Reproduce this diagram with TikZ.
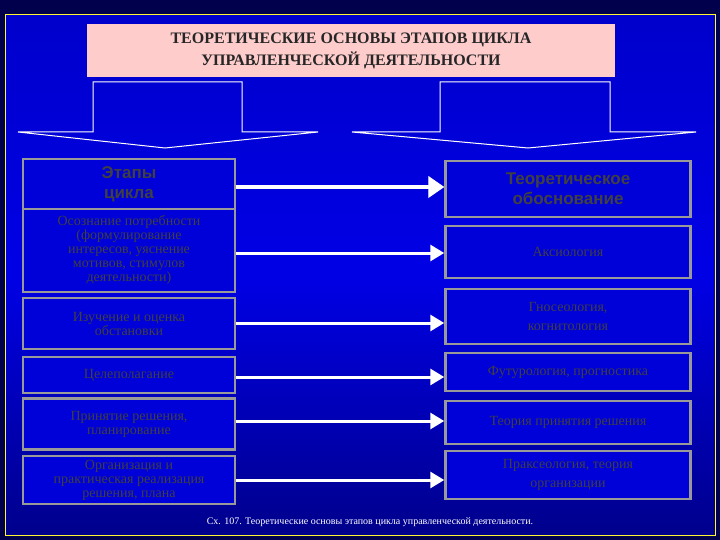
\documentclass[tikz,border=0pt]{standalone}
\usepackage{fontspec}
\setmainfont{Liberation Serif}
\newfontfamily\hsans{Liberation Sans}
\usetikzlibrary{arrows.meta}
\begin{document}
\begin{tikzpicture}[x=1pt,y=-1pt,
  box/.style={draw=gray!80,line width=2.5pt,fill=blue!85!black,text=black!75,align=center,inner sep=1pt,font=\fontsize{14}{14}\selectfont},
  hbox/.style={box,font=\hsans\bfseries\fontsize{17}{20}\selectfont},
  arr/.style={white,line width=3pt,-{Triangle[length=14pt,width=16pt]}},
  darr/.style={white,double=white,double distance=2pt,line width=1pt,-{Triangle[length=16pt,width=22pt]}}]
\useasboundingbox (0,0) rectangle (720,540);
\fill[blue!30!black] (0,0) rectangle (720,540);
\shade[top color=blue!80!black,bottom color=blue!55!black,middle color=blue!90!black] (5,15) rectangle (715,535);
\draw[yellow!80!white,line width=1pt] (5,15) rectangle (715,535);
\node[fill=red!20!white,minimum width=528pt,minimum height=53pt,align=center,text=black!85,font=\bfseries\fontsize{16}{22}\selectfont] (title) at (351,50.5) {ТЕОРЕТИЧЕСКИЕ ОСНОВЫ ЭТАПОВ ЦИКЛА\\УПРАВЛЕНЧЕСКОЙ ДЕЯТЕЛЬНОСТИ};
\draw[white,line width=1pt] (18,132)--(93,132)--(93,82)--(242,82)--(242,132)--(318,132)--(165,148)--cycle;
\draw[white,line width=1pt] (352,132)--(440,132)--(440,82)--(610,82)--(610,132)--(696,132)--(528,148)--cycle;
\foreach \n/\y/\h/\t in {l1/250/84/{Осознание потребности\\(формулирование\\интересов, уяснение\\мотивов, стимулов\\деятельности)},l2/323.5/51/{Изучение и оценка\\обстановки},l3/375/36/{Целеполагание},l4/424/51/{Принятие решения,\\планирование},l5/480/48/{Организация и\\практическая реализация\\решения, плана}}
  \node[box,minimum width=212pt,minimum height=\h pt] (\n) at (129,\y) {\t};
\node[hbox,minimum width=212pt,minimum height=50pt] (l0) at (129,184) {Этапы\\цикла};
\node[hbox,minimum width=245pt,minimum height=56pt] (r0) at (568,189) {Теоретическое\\обоснование};
\foreach \n/\y/\h/\t in {r1/252/52/{Аксиология},r2/316.5/55/{Гносеология,\\когнитология},r3/372/38/{Футурология, прогностика},r4/422.5/43/{Теория принятия решения},r5/475/48/{Праксеология, теория\\организации}}
  \node[box,minimum width=245pt,minimum height=\h pt,font=\fontsize{14}{19}\selectfont] (\n) at (568,\y) {\t};
\draw[darr] (l0.east|-0,187) -- (r0.west|-0,187);
\foreach \a/\b/\y in {l1/r1/253,l2/r2/323,l3/r3/377,l4/r4/421,l5/r5/480}
  \draw[arr] (\a.east|-0,\y) -- (\b.west|-0,\y);
\node[white,font=\fontsize{10}{11}\selectfont] (cap) at (370,522) {Сх. 107. Теоретические основы этапов цикла управленческой деятельности.};
\end{tikzpicture}
\end{document}
